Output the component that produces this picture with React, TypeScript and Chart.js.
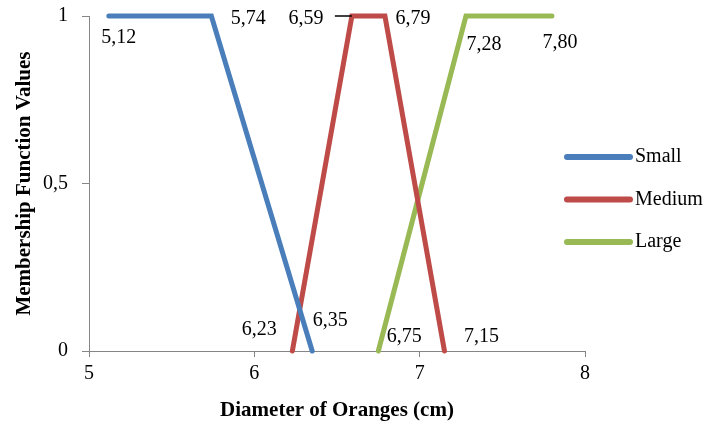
import React, { useEffect, useRef } from "react";
import { Chart, registerables } from "chart.js";

Chart.register(...registerables);

const seriesNames = ["Small", "Medium", "Large"];
const smallX = [5.12, 5.74, 6.35];
const smallY = [1, 1, 0];
const mediumX = [6.23, 6.59, 6.79, 7.15];
const mediumY = [0, 1, 1, 0];
const largeX = [6.75, 7.28, 7.8];
const largeY = [0, 1, 1];
const xTicks = [5, 6, 7, 8];
const yTicks = [0, 0.5, 1];

// label placement (style only): offsets in px from each point
const labelOffsets: number[][][] = [
  [[10, 22], [37, 3], [18, -30]],
  [[-33, -21], [-46, 3], [28, 3], [37, -14]],
  [[26, -14], [18, 29], [8, 27]],
];
const colors = ["#4A7EBB", "#BE4B48", "#98B954"];
const FONT = "'Liberation Serif', 'Times New Roman', serif";

const fmt = (v: number) => v.toFixed(2).replace(".", ",");

export default function App() {
  const ref = useRef<HTMLCanvasElement | null>(null);
  useEffect(() => {
    if (!ref.current) return;
    const xs = [smallX, mediumX, largeX];
    const ys = [smallY, mediumY, largeY];
    const datasets = xs.map((xv, i) => ({
      label: seriesNames[i],
      data: xv.map((x, j) => ({ x, y: ys[i][j] })),
      borderColor: colors[i],
      backgroundColor: colors[i],
      borderWidth: 5,
      pointRadius: 0,
      pointHoverRadius: 0,
      borderCapStyle: "round" as const,
      borderJoinStyle: "miter" as const,
      tension: 0,
      clip: false as any,
    }));

    const labelPlugin = {
      id: "pointLabels",
      afterDatasetsDraw(chart: any) {
        const ctx = chart.ctx;
        ctx.save();
        ctx.font = `20px ${FONT}`;
        ctx.fillStyle = "#000";
        ctx.textAlign = "center";
        ctx.textBaseline = "middle";
        chart.data.datasets.forEach((ds: any, i: number) => {
          const meta = chart.getDatasetMeta(i);
          meta.data.forEach((pt: any, j: number) => {
            const [dx, dy] = labelOffsets[i][j];
            ctx.fillText(fmt(ds.data[j].x), pt.x + dx, pt.y + dy);
            if (i === 1 && j === 1) {
              ctx.strokeStyle = "#000";
              ctx.lineWidth = 1.5;
              ctx.beginPath();
              ctx.moveTo(pt.x - 17, pt.y);
              ctx.lineTo(pt.x, pt.y);
              ctx.stroke();
            }
          });
        });
        // legend
        const area = chart.chartArea;
        chart.data.datasets.forEach((ds: any, i: number) => {
          const y = 157 + i * 42.5;
          const x0 = area.right - 18;
          ctx.strokeStyle = ds.borderColor;
          ctx.lineWidth = 6;
          ctx.lineCap = "round";
          ctx.beginPath();
          ctx.moveTo(x0, y);
          ctx.lineTo(x0 + 63, y);
          ctx.stroke();
          ctx.textAlign = "left";
          ctx.fillStyle = "#000";
          ctx.fillText(ds.label, x0 + 68, y);
        });
        ctx.restore();
      },
    };

    const chart = new Chart(ref.current, {
      type: "line",
      data: { datasets },
      options: {
        animation: false,
        responsive: true,
        maintainAspectRatio: false,
        layout: { padding: { left: 0, top: 16, right: 124, bottom: 0 } },
        plugins: { legend: { display: false }, tooltip: { enabled: false } },
        scales: {
          x: {
            type: "linear",
            min: xTicks[0],
            max: xTicks[xTicks.length - 1],
            afterBuildTicks: (s: any) => {
              s.ticks = xTicks.map((v) => ({ value: v }));
            },
            afterFit: (s: any) => {
              s.height = 74;
              s.paddingLeft = 0;
              s.paddingRight = 0;
            },
            ticks: {
              color: "#000",
              font: { family: FONT, size: 20 },
              padding: 5,
              callback: (v: any) => String(v).replace(".", ","),
            },
            grid: { drawOnChartArea: false, color: "#868686", tickLength: 6 },
            border: { color: "#868686" },
            title: {
              display: true,
              text: "Diameter of Oranges (cm)",
              color: "#000",
              font: { family: FONT, size: 21, weight: "bold" },
              padding: { top: 0, bottom: 2 },
            },
          },
          y: {
            type: "linear",
            min: yTicks[0],
            max: yTicks[yTicks.length - 1],
            afterBuildTicks: (s: any) => {
              s.ticks = yTicks.map((v) => ({ value: v }));
            },
            afterFit: (s: any) => {
              s.width = 89;
              s.paddingTop = 0;
              s.paddingBottom = 0;
            },
            ticks: {
              color: "#000",
              font: { family: FONT, size: 20 },
              padding: 14,
              callback: (v: any) => String(v).replace(".", ","),
            },
            grid: { drawOnChartArea: false, color: "#868686", tickLength: 7 },
            border: { color: "#868686" },
            title: {
              display: true,
              text: "Membership Function Values",
              color: "#000",
              font: { family: FONT, size: 21, weight: "bold" },
              padding: { top: 12, bottom: 0 },
            },
          },
        },
      },
      plugins: [labelPlugin],
    });
    return () => chart.destroy();
  }, []);
  return (
    <div style={{ position: "absolute", left: 0, top: 0, width: 709, height: 425, background: "#fff" }}>
      <canvas ref={ref} />
    </div>
  );
}
